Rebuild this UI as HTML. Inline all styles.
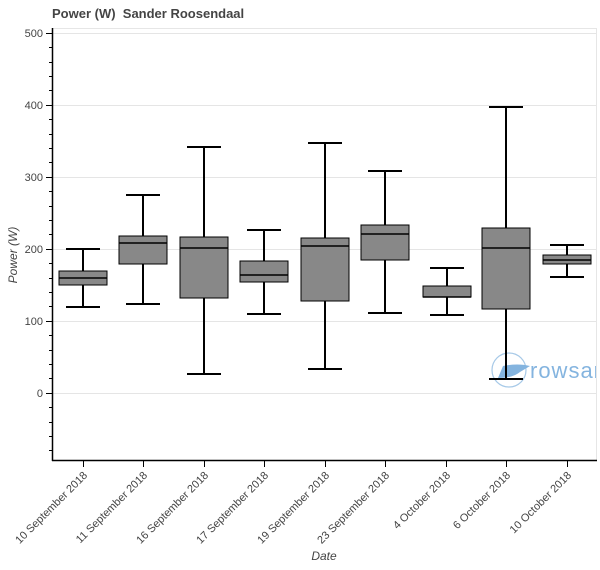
<!DOCTYPE html>
<html><head><style>body{margin:0;background:#fff}svg{display:block}text{font-family:"Liberation Sans",Arial,sans-serif}</style></head><body>
<svg width="600" height="570" xmlns="http://www.w3.org/2000/svg">
<rect x="0" y="0" width="600" height="570" fill="#fff"/>
<rect x="52.5" y="28.5" width="544" height="432" fill="none" stroke="#e6e6e6"/>
<g stroke="#e5e5e5" stroke-width="1">
<line x1="53" x2="596" y1="33.5" y2="33.5"/><line x1="53" x2="596" y1="105.5" y2="105.5"/>
<line x1="53" x2="596" y1="177.5" y2="177.5"/><line x1="53" x2="596" y1="249.5" y2="249.5"/>
<line x1="53" x2="596" y1="321.5" y2="321.5"/><line x1="53" x2="596" y1="393.5" y2="393.5"/>
</g>
<text x="52" y="18" font-size="13" font-weight="bold" fill="#444">Power (W)&#160;&#160;Sander Roosendaal</text>
<svg x="0" y="0" width="596" height="570">
<g opacity="0.75">
<circle cx="509" cy="370" r="17" fill="none" stroke="#8ab8e0" stroke-width="1.2"/>
<path d="M498 378 L503 366 Q518 363 530 366 L520 372 Q513 378 498 378Z" fill="#5b9bd5"/>
<text x="530" y="378" font-size="22" fill="#5b9bd5" letter-spacing="1">rowsar</text>
</g>
</svg>
<g stroke="#000" stroke-width="1.5" fill="none">
<line x1="52.5" y1="28" x2="52.5" y2="461"/>
<line x1="52" y1="460.5" x2="597" y2="460.5"/>
</g>
<g stroke="#000" stroke-width="1">
<path d="M46 33.5h6M46 105.5h6M46 177.5h6M46 249.5h6M46 321.5h6M46 393.5h6"/>
<path d="M49 47.5h3M49 62.5h3M49 76.5h3M49 90.5h3M49 119.5h3M49 134.5h3M49 148.5h3M49 162.5h3M49 191.5h3M49 206.5h3M49 220.5h3M49 234.5h3M49 263.5h3M49 278.5h3M49 292.5h3M49 306.5h3M49 335.5h3M49 350.5h3M49 364.5h3M49 378.5h3M49 407.5h3M49 422.5h3M49 436.5h3M49 450.5h3"/>
<path d="M83.5 461v6M143.5 461v6M204.5 461v6M264.5 461v6M325.5 461v6M385.5 461v6M446.5 461v6M506.5 461v6M567.5 461v6"/>
</g>
<g font-size="11" fill="#444" text-anchor="end">
<text x="43" y="37">500</text><text x="43" y="109">400</text><text x="43" y="181">300</text><text x="43" y="253">200</text><text x="43" y="325">100</text><text x="43" y="397">0</text>
</g>
<text transform="translate(17,255) rotate(-90)" font-size="12" font-style="italic" fill="#444" text-anchor="middle">Power (W)</text>
<text x="324" y="560" font-size="12" font-style="italic" fill="#444" text-anchor="middle">Date</text>
<g font-size="11" fill="#444" text-anchor="end">
<text transform="translate(88,476) rotate(-45)">10 September 2018</text>
<text transform="translate(148,476) rotate(-45)">11 September 2018</text>
<text transform="translate(209,476) rotate(-45)">16 September 2018</text>
<text transform="translate(269,476) rotate(-45)">17 September 2018</text>
<text transform="translate(330,476) rotate(-45)">19 September 2018</text>
<text transform="translate(390,476) rotate(-45)">23 September 2018</text>
<text transform="translate(451,476) rotate(-45)">4 October 2018</text>
<text transform="translate(511,476) rotate(-45)">6 October 2018</text>
<text transform="translate(572,476) rotate(-45)">10 October 2018</text>
</g>
<g stroke="#000" stroke-width="2" fill="#888">
<line x1="83" x2="83" y1="249" y2="307"/><line x1="66" x2="100" y1="249" y2="249"/><line x1="66" x2="100" y1="307" y2="307"/>
<rect x="59" y="271" width="48" height="14" stroke-width="1"/><line x1="59" x2="107" y1="278" y2="278" stroke-width="1.5"/>
<line x1="143" x2="143" y1="195" y2="304"/><line x1="126" x2="160" y1="195" y2="195"/><line x1="126" x2="160" y1="304" y2="304"/>
<rect x="119" y="236" width="48" height="28" stroke-width="1"/><line x1="119" x2="167" y1="243" y2="243" stroke-width="1.5"/>
<line x1="204" x2="204" y1="147" y2="374"/><line x1="187" x2="221" y1="147" y2="147"/><line x1="187" x2="221" y1="374" y2="374"/>
<rect x="180" y="237" width="48" height="61" stroke-width="1"/><line x1="180" x2="228" y1="248" y2="248" stroke-width="1.5"/>
<line x1="264" x2="264" y1="230" y2="314"/><line x1="247" x2="281" y1="230" y2="230"/><line x1="247" x2="281" y1="314" y2="314"/>
<rect x="240" y="261" width="48" height="21" stroke-width="1"/><line x1="240" x2="288" y1="275" y2="275" stroke-width="1.5"/>
<line x1="325" x2="325" y1="143" y2="369"/><line x1="308" x2="342" y1="143" y2="143"/><line x1="308" x2="342" y1="369" y2="369"/>
<rect x="301" y="238" width="48" height="63" stroke-width="1"/><line x1="301" x2="349" y1="246" y2="246" stroke-width="1.5"/>
<line x1="385" x2="385" y1="171" y2="313"/><line x1="368" x2="402" y1="171" y2="171"/><line x1="368" x2="402" y1="313" y2="313"/>
<rect x="361" y="225" width="48" height="35" stroke-width="1"/><line x1="361" x2="409" y1="234" y2="234" stroke-width="1.5"/>
<line x1="447" x2="447" y1="268" y2="315"/><line x1="430" x2="464" y1="268" y2="268"/><line x1="430" x2="464" y1="315" y2="315"/>
<rect x="423" y="286" width="48" height="11" stroke-width="1"/><line x1="423" x2="471" y1="297" y2="297" stroke-width="1.5"/>
<line x1="506" x2="506" y1="107" y2="379"/><line x1="489" x2="523" y1="107" y2="107"/><line x1="489" x2="523" y1="379" y2="379"/>
<rect x="482" y="228" width="48" height="81" stroke-width="1"/><line x1="482" x2="530" y1="248" y2="248" stroke-width="1.5"/>
<line x1="567" x2="567" y1="245" y2="277"/><line x1="550" x2="584" y1="245" y2="245"/><line x1="550" x2="584" y1="277" y2="277"/>
<rect x="543" y="255" width="48" height="9" stroke-width="1"/><line x1="543" x2="591" y1="260" y2="260" stroke-width="1.5"/>
</g>
</svg>
</body></html>
